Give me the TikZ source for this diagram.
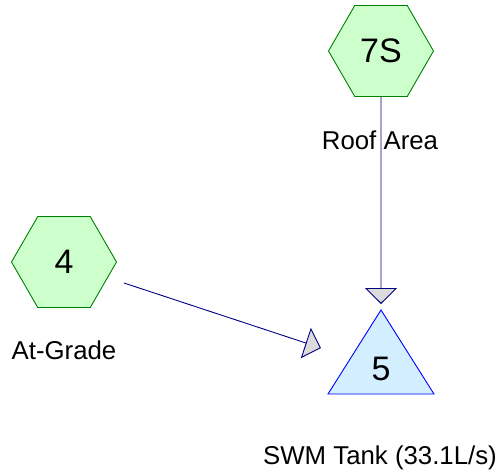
\documentclass[tikz,border=0pt]{standalone}
\usepackage{fontspec}
\setmainfont{Liberation Sans}
\usepackage{tikz}
\usetikzlibrary{arrows.meta,positioning,shapes.geometric}
\definecolor{hexgreen}{RGB}{0,128,0}
\definecolor{hexfill}{RGB}{204,255,204}
\definecolor{tankblue}{RGB}{0,0,255}
\definecolor{tankfill}{RGB}{210,238,255}
\definecolor{flownavy}{RGB}{0,0,128}

\begin{document}
\begin{tikzpicture}[
  x=1pt, y=-1pt,
  catch/.style={regular polygon, regular polygon sides=6, draw=hexgreen,
    fill=hexfill, line width=0.9pt, minimum size=105pt, inner sep=0pt,
    font=\fontsize{34}{34}\selectfont},
  tank/.style={draw=tankblue, fill=tankfill, line width=0.9pt},
  lbl/.style={anchor=base, inner sep=0pt, font=\fontsize{25.8}{26}\selectfont},
  flow/.style={draw=flownavy, line width=0.9pt,
    -{Triangle[length=16pt, width=32pt, fill=black!14]}}
]
\useasboundingbox (0,0) rectangle (504,475);

% catchments
\node[catch] (roof) at (381,51) {7S};
\node[catch] (grade) at (64,262) {4};

% storage tank
\draw[tank] (381,310) -- (434,394) -- (328,394) -- cycle;
\node[font=\fontsize{34}{34}\selectfont, inner sep=0pt] (tank) at (381,369) {5};

% labels
\node[lbl] (roofname) at (380,149) {Roof Area};
\node[lbl] (gradename) at (64,359) {At-Grade};
\node[lbl] (tankname) at (380,464) {SWM Tank (33.1L/s)};

% flow links
\coordinate (gradeout) at (124,283);
\coordinate (tankleft) at (321,348);
\coordinate (tanktop) at (381,304);
\draw[flow] (roof.south) -- (tanktop);
\draw[flow] (gradeout) -- (tankleft);
\end{tikzpicture}
\end{document}
